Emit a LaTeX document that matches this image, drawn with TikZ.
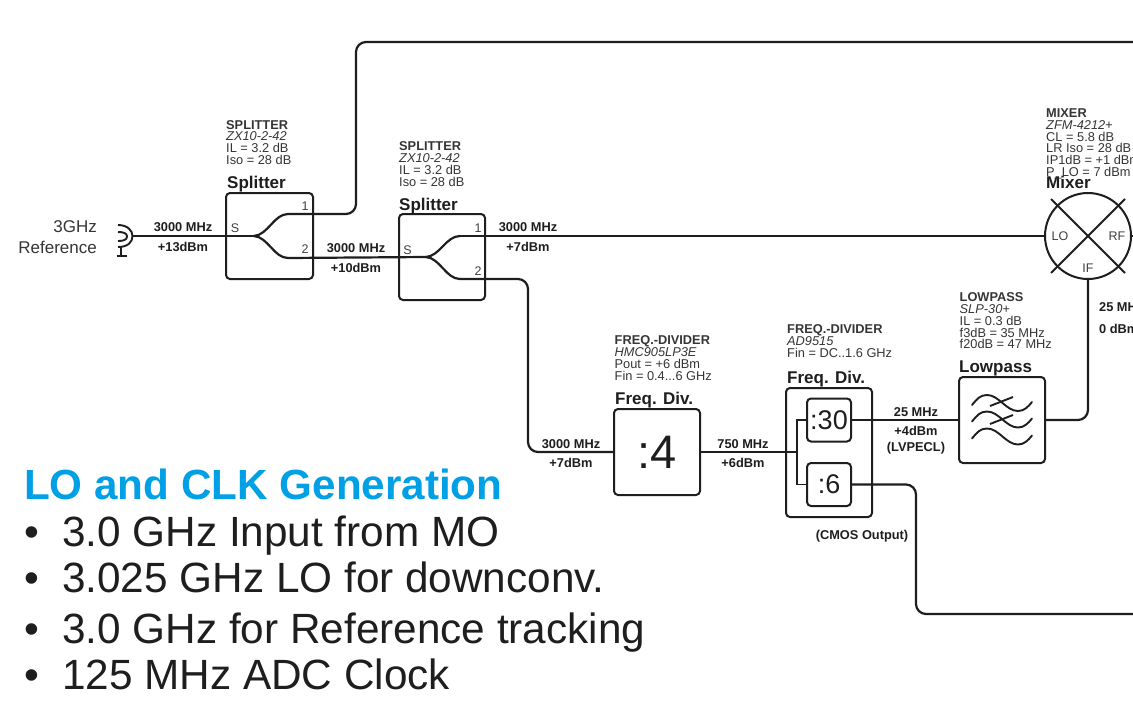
\documentclass[tikz,border=0pt]{standalone}
\usepackage{fontspec}
\usetikzlibrary{calc}
\setmainfont{Liberation Sans}
\definecolor{ink}{HTML}{1E1E1E}
\definecolor{titleblue}{HTML}{00A0E6}
\tikzset{
  wire/.style={draw=ink,line width=2.2pt,rounded corners=10pt},
  thinwire/.style={draw=ink,line width=1.9pt},
  box/.style={draw=ink,line width=2pt,rounded corners=4pt,inner sep=0pt,fill=none},
  info/.style={anchor=north west,inner sep=0pt,align=left,text=ink!90,font=\fontsize{12.8}{11.8}\selectfont},
  blockname/.style={anchor=base west,inner sep=0pt,text=ink,font=\fontsize{17}{17}\selectfont\bfseries},
  sig/.style={anchor=base,inner sep=0pt,text=ink,align=center,font=\fontsize{12.8}{13}\selectfont\bfseries},
  port/.style={anchor=center,inner sep=0pt,text=ink!85,font=\fontsize{12.5}{13}\selectfont},
  bigtext/.style={anchor=base west,inner sep=0pt,text=ink,font=\fontsize{42.3}{44}\selectfont},
  ref/.style={anchor=base east,inner sep=0pt,text=ink!90,font=\fontsize{17}{17}\selectfont},
}
\begin{document}
\begin{tikzpicture}[x=1pt,y=-1pt]
\useasboundingbox (0,0) rectangle (1133,710);
\clip (0,0) rectangle (1133,710);
\fill[white] (0,0) rectangle (1133,710);

% blocks
\node[box,minimum width=87pt,minimum height=86pt] (split1) at (269.5,236) {};
\node[box,minimum width=86pt,minimum height=86pt] (split2) at (442,257) {};
\node[box,minimum width=86pt,minimum height=86pt,font=\fontsize{47}{47}\selectfont,text=ink] (div4) at (657,452) {:4};
\node[box,minimum width=86pt,minimum height=129pt] (divbox) at (829,452.5) {};
\node[box,minimum width=44pt,minimum height=43pt,font=\fontsize{27}{27}\selectfont,text=ink] (div30) at (829,420) {:30};
\node[box,minimum width=44pt,minimum height=43pt,font=\fontsize{27}{27}\selectfont,text=ink] (div6) at (829,484.5) {:6};
\node[box,minimum width=86pt,minimum height=86pt] (lp) at (1002,420) {};
\node[circle,draw=ink,line width=2pt,minimum size=86pt,inner sep=0pt] (mixer) at (1088,236) {};

% mixer cross
\coordinate (mxa) at (1051,199);
\coordinate (mxb) at (1125,273);
\coordinate (mxc) at (1125,199);
\coordinate (mxd) at (1051,273);
\draw[thinwire] (mxa) -- (mxb);
\draw[thinwire] (mxc) -- (mxd);

% antenna
\coordinate (ant) at (132.5,236);
\coordinate (anta) at (118,225);
\coordinate (antb) at (118,247);
\coordinate (ante) at (118,232);
\coordinate (antf) at (118,241);
\coordinate (antm) at (127,236.5);
\coordinate (antg) at (121,246);
\coordinate (anth) at (121,256);
\coordinate (anti) at (116.5,256);
\coordinate (antj) at (126.5,256);
\draw[thinwire] (anta) .. controls (128,225) and (132.5,231) .. (ant) .. controls (132.5,242) and (128,247) .. (antb);
\draw[thinwire] (ante) .. controls (123,232) and (127,233) .. (antm) .. controls (127,240) and (123,241) .. (antf);
\draw[thinwire] (antg) -- (anth);
\draw[thinwire] (anti) -- (antj);

% splitter junctions
\coordinate (j1) at (254,236);
\coordinate (o1a) at (288,214);
\coordinate (o1b) at (288,258);
\coordinate (j2) at (426,257);
\coordinate (o2a) at (460,236);
\coordinate (o2b) at (460,279);
\coordinate (ctop) at (356,42);
\coordinate (ctopr) at (1133,42);
\coordinate (c1) at (356,214);
\coordinate (c2) at (528,279);
\coordinate (c3) at (528,452);
\coordinate (lv) at (1088,420);
\coordinate (cm1) at (916,484.5);
\coordinate (cm2) at (916,614);
\coordinate (cm3) at (1133,614);
\coordinate (rfend) at (1133,236);
\coordinate (b) at (797,452);
\coordinate (b1) at (797,420);
\coordinate (b2) at (797,484.5);

\draw[wire] (ant) -- (j1);
\draw[wire,line cap=round] (j1) .. controls (268,235) and (274,214) .. (o1a);
\draw[wire,line cap=round] (j1) .. controls (268,237) and (274,258) .. (o1b);
\draw[wire] (o1a) -- (c1) -- (ctop) -- (ctopr);
\draw[wire] (o1b) -- (j2);
\draw[wire,line cap=round] (j2) .. controls (440,256) and (446,236) .. (o2a);
\draw[wire,line cap=round] (j2) .. controls (440,258) and (446,279) .. (o2b);
\draw[wire] (o2a) -- (mixer.west);
\draw[wire] (o2b) -- (c2) -- (c3) -- (div4.west);
\draw[thinwire] (div4.east) -- (b);
\draw[thinwire] (b2) -- (div6.west);
\draw[thinwire] (div30.west) -- (b1) -- (b2);
\draw[thinwire] (div30.east) -- (lp.west);
\draw[wire] (lp.east) -- (lv) -- (mixer.south);
\draw[wire] (div6.east) -- (cm1) -- (cm2) -- (cm3);
\draw[thinwire] (mixer.east) -- (rfend);

% lowpass symbol
\foreach \yy in {0,16.5,33.5}
  \draw[thinwire,line cap=round] (972,405+\yy) .. controls (977,399+\yy) and (980,395+\yy) .. (987,395+\yy) .. controls (999,395+\yy) and (1006,411+\yy) .. (1018,411+\yy) .. controls (1024,411+\yy) and (1028,407+\yy) .. (1032,402+\yy);
\coordinate (sa) at (990,406);
\coordinate (sb) at (1013,397);
\coordinate (sc) at (990,424);
\coordinate (sd) at (1013,415);
\draw[thinwire] (sa) -- (sb);
\draw[thinwire] (sc) -- (sd);

% reference label
\node[ref] (r1) at (97,232) {3GHz};
\node[ref] (r2) at (97,253) {Reference};

% port labels
\node[port] (pS1) at (235,228) {S};
\node[port] (p11) at (305,206) {1};
\node[port] (p12) at (305,249) {2};
\node[port] (pS2) at (407.5,250) {S};
\node[port] (p21) at (478,228) {1};
\node[port] (p22) at (478,271) {2};
\node[port] (mLO) at (1060,236) {LO};
\node[port] (mRF) at (1117,236) {RF};
\node[port] (mIF) at (1088,268) {IF};

% signal labels
\node[sig] (s1) at (183,231.5) {3000 MHz};
\node[sig] (s2) at (183,251) {+13dBm};
\node[sig] (s3) at (356,252.5) {3000 MHz};
\node[sig] (s4) at (356,272) {+10dBm};
\node[sig] (s5) at (528,231) {3000 MHz};
\node[sig] (s6) at (528,251) {+7dBm};
\node[sig] (s7) at (571,448) {3000 MHz};
\node[sig] (s8) at (571,467) {+7dBm};
\node[sig] (s9) at (743,448) {750 MHz};
\node[sig] (s10) at (743,467) {+6dBm};
\node[sig] (s11) at (916,416) {25 MHz};
\node[sig] (s12) at (916,435.5) {+4dBm};
\node[sig] (s13) at (916,451) {(LVPECL)};
\node[sig] (s14) at (862,539) {(CMOS Output)};
\node[sig,anchor=base west] (s15) at (1099,311) {25 MHz};
\node[sig,anchor=base west] (s16) at (1099,333) {0 dBm};

% block names
\node[blockname] (n1) at (227,188) {Splitter};
\node[blockname] (n2) at (399,210) {Splitter};
\node[blockname] (n3) at (615,404.5) {Freq. Div.};
\node[blockname] (n4) at (787,383) {Freq. Div.};
\node[blockname] (n5) at (959,372) {Lowpass};
\node[blockname] (n6) at (1046,188) {Mixer};

% info blocks
\node[info] (i1) at (226,120) {\textbf{SPLITTER}\\\textit{ZX10-2-42}\\IL = 3.2 dB\\Iso = 28 dB};
\node[info] (i2) at (399,141.5) {\textbf{SPLITTER}\\\textit{ZX10-2-42}\\IL = 3.2 dB\\Iso = 28 dB};
\node[info] (i3) at (614.5,335.5) {\textbf{FREQ.-DIVIDER}\\\textit{HMC905LP3E}\\Pout = +6 dBm\\Fin = 0.4...6 GHz};
\node[info] (i4) at (787,324.5) {\textbf{FREQ.-DIVIDER}\\\textit{AD9515}\\Fin = DC..1.6 GHz};
\node[info] (i5) at (959.5,292.5) {\textbf{LOWPASS}\\\textit{SLP-30+}\\IL = 0.3 dB\\f3dB = 35 MHz\\f20dB = 47 MHz};
\node[info] (i6) at (1046,108.5) {\textbf{MIXER}\\\textit{ZFM-4212+}\\CL = 5.8 dB\\LR Iso = 28 dB\\IP1dB = +1 dBm\\P\_LO = 7 dBm};

% summary text
\node[bigtext,text=titleblue,font=\fontsize{42.2}{44}\selectfont\bfseries] (t0) at (24,499) {LO and CLK Generation};
\node[bigtext] (b1t) at (24,546) {•};
\node[bigtext] (t1) at (62,546) {3.0 GHz Input from MO};
\node[bigtext] (b2t) at (24,592) {•};
\node[bigtext] (t2) at (62,592) {3.025 GHz LO for downconv.};
\node[bigtext] (b3t) at (24,643) {•};
\node[bigtext] (t3) at (62,643) {3.0 GHz for Reference tracking};
\node[bigtext] (b4t) at (24,689) {•};
\node[bigtext] (t4) at (62,689) {125 MHz ADC Clock};
\end{tikzpicture}
\end{document}
